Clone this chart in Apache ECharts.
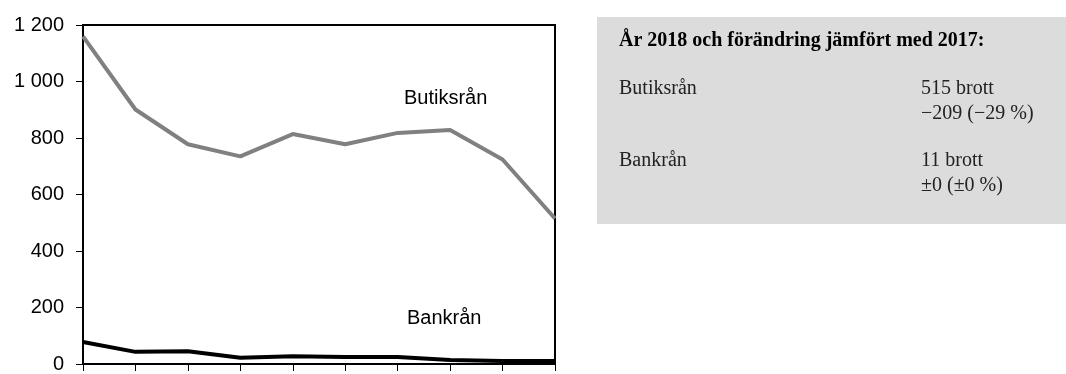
<!DOCTYPE html>
<html>
<head>
<meta charset="utf-8">
<script src="https://cdn.jsdelivr.net/npm/echarts@6/dist/echarts.min.js"></script>
<style>
  html, body { margin: 0; padding: 0; background: #fff; }
  #chart { width: 1066px; height: 374px; }
</style>
</head>
<body>
<div id="chart"></div>
<script>
// Robberies per year, 2009–2018
const years = ['2009', '2010', '2011', '2012', '2013', '2014', '2015', '2016', '2017', '2018'];
const butiksran = [1160, 901, 778, 735, 814, 778, 818, 828, 724, 515];
const bankran = [78, 43, 45, 22, 27, 25, 25, 14, 11, 11];
const yTicks = [0, 200, 400, 600, 800, 1000, 1200];
const yTickLabels = ['0', '200', '400', '600', '800', '1 000', '1 200'];

// Summary panel text
const summaryTitle = 'År 2018 och förändring jämfört med 2017:';
const summaryRows = [
  { name: 'Butiksrån', count: '515 brott', change: '−209 (−29 %)' },
  { name: 'Bankrån', count: '11 brott', change: '±0 (±0 %)' }
];

const sans = '"Liberation Sans", Arial, sans-serif';
const serif = '"Liberation Serif", "DejaVu Serif", serif';

const chart = echarts.init(document.getElementById('chart'), null, { renderer: 'canvas' });

const graphic = [
  { type: 'rect', left: 597, top: 17, shape: { width: 469, height: 207 }, style: { fill: '#dcdcdc' }, silent: true },
  { type: 'text', left: 619, top: 31, style: { text: summaryTitle, font: 'bold 20px ' + serif, fill: '#000' } }
];
summaryRows.forEach((r, i) => {
  const y0 = 79 + i * 72;
  graphic.push({ type: 'text', left: 619, top: y0, style: { text: r.name, font: '20px ' + serif, fill: '#222' } });
  graphic.push({ type: 'text', left: 921, top: y0, style: { text: r.count, font: '20px ' + serif, fill: '#222' } });
  graphic.push({ type: 'text', left: 921, top: y0 + 25, style: { text: r.change, font: '20px ' + serif, fill: '#222' } });
});
// Series names written inside the plot
graphic.push({ type: 'text', left: 404, top: 88, style: { text: 'Butiksrån', font: '20px ' + sans, fill: '#000' } });
graphic.push({ type: 'text', left: 407, top: 308, style: { text: 'Bankrån', font: '20px ' + sans, fill: '#000' } });

chart.setOption({
  animation: false,
  grid: {
    left: 83, top: 25, right: 511, bottom: 6,
    show: true, borderColor: '#000', borderWidth: 2, backgroundColor: '#fff'
  },
  xAxis: {
    type: 'category',
    data: years,
    boundaryGap: false,
    axisLine: { lineStyle: { color: '#000', width: 2 } },
    axisTick: { show: true, length: 7, lineStyle: { color: '#000', width: 1 } },
    axisLabel: { show: false },
    splitLine: { show: false }
  },
  yAxis: {
    type: 'value',
    min: 0, max: 1200, interval: 200,
    axisLine: { show: true, lineStyle: { color: '#000', width: 2 } },
    axisTick: { show: true, length: 7, lineStyle: { color: '#000', width: 1 } },
    axisLabel: {
      margin: 19,
      fontFamily: sans, fontSize: 20, color: '#000',
      formatter: v => yTickLabels[yTicks.indexOf(v)]
    },
    splitLine: { show: false }
  },
  series: [
    {
      name: 'Butiksrån', type: 'line', data: butiksran,
      symbol: 'none', lineStyle: { color: '#808080', width: 4 }, z: 3
    },
    {
      name: 'Bankrån', type: 'line', data: bankran,
      symbol: 'none', lineStyle: { color: '#000', width: 4 }, z: 3
    }
  ],
  graphic: graphic
});
</script>
</body>
</html>
